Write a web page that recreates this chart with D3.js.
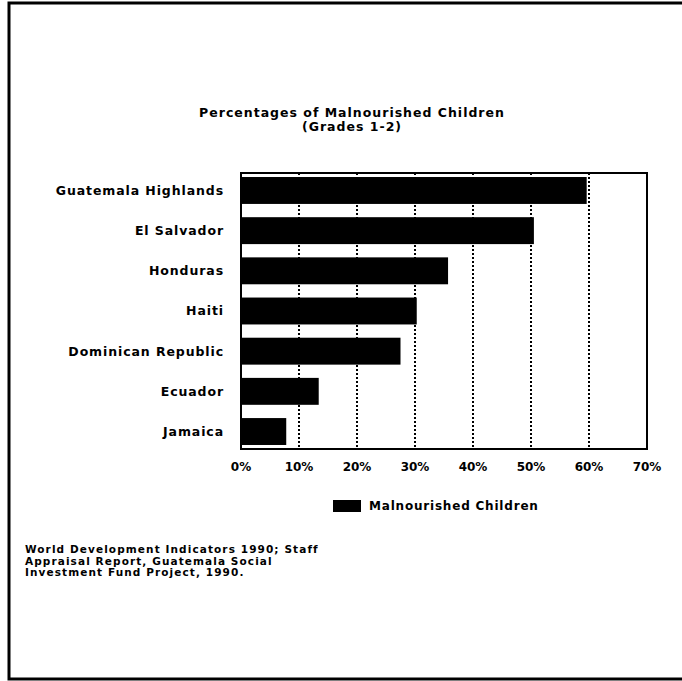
<html lang="en">
<head>
  <meta charset="UTF-8">
  <title>Percentages of Malnourished Children</title>
  <script src="https://d3js.org/d3.v7.min.js"></script>
  <style>
    body { margin: 0; background: white; }
    text { font-family: "DejaVu Sans", sans-serif; font-weight: bold; fill: black; }
  </style>
</head>
<body>
  <svg id="chart" width="682" height="681"></svg>
  <script>
    // data
    const countries = ["Guatemala Highlands", "El Salvador", "Honduras", "Haiti",
      "Dominican Republic", "Ecuador", "Jamaica"];
    const malnourished = [59.6, 50.5, 35.7, 30.3, 27.5, 13.4, 7.8];
    const xTicks = [0, 10, 20, 30, 40, 50, 60, 70];
    const titleLines = ["Percentages of Malnourished Children", "(Grades 1-2)"];
    const legendLabel = "Malnourished Children";
    const sourceLines = ["World Development Indicators 1990; Staff",
      "Appraisal Report, Guatemala Social",
      "Investment Fund Project, 1990."];

    const svg = d3.select("#chart");
    const plot = { left: 241, right: 647, top: 173, bottom: 449 };

    // page frame (scan border)
    svg.append("path")
      .attr("d", "M682,3 L9,3 L9,679 L682,679")
      .attr("fill", "none").attr("stroke", "black").attr("stroke-width", 3);

    const x = d3.scaleLinear().domain([0, 70]).range([plot.left, plot.right]);
    const y = d3.scaleBand().domain(countries).range([plot.top, plot.bottom])
      .paddingInner(0.33).paddingOuter(0.1);

    // title
    svg.selectAll("text.title").data(titleLines)
      .join("text")
      .attr("class", "title")
      .attr("x", 352)
      .attr("y", (d, i) => 117 + i * 14)
      .attr("text-anchor", "middle")
      .style("font-size", "12.5px")
      .style("letter-spacing", "1px")
      .text(d => d);

    // dotted gridlines
    svg.selectAll("line.grid").data(xTicks.filter(d => d > 0 && d < 70))
      .join("line")
      .attr("class", "grid")
      .attr("x1", d => x(d)).attr("x2", d => x(d))
      .attr("y1", plot.top).attr("y2", plot.bottom)
      .attr("stroke", "black").attr("stroke-width", 2)
      .attr("stroke-dasharray", "2,2");

    // bars
    svg.selectAll("rect.bar").data(countries)
      .join("rect")
      .attr("class", "bar")
      .attr("x", plot.left)
      .attr("y", d => y(d))
      .attr("width", (d, i) => x(malnourished[i]) - plot.left)
      .attr("height", y.bandwidth())
      .attr("fill", "black");

    // plot frame
    svg.append("rect")
      .attr("x", plot.left).attr("y", plot.top)
      .attr("width", plot.right - plot.left).attr("height", plot.bottom - plot.top)
      .attr("fill", "none").attr("stroke", "black").attr("stroke-width", 2);

    // category labels
    svg.selectAll("text.cat").data(countries)
      .join("text")
      .attr("class", "cat")
      .attr("x", 224)
      .attr("y", d => y(d) + y.bandwidth() / 2)
      .attr("dy", "0.35em")
      .attr("text-anchor", "end")
      .style("font-size", "12.5px")
      .style("letter-spacing", "0.9px")
      .text(d => d);

    // x tick labels
    svg.selectAll("text.tick").data(xTicks)
      .join("text")
      .attr("class", "tick")
      .attr("x", d => x(d))
      .attr("y", 471)
      .attr("text-anchor", "middle")
      .style("font-size", "12px")
      .text(d => d + "%");

    // legend
    svg.append("rect")
      .attr("x", 333).attr("y", 500).attr("width", 28).attr("height", 12)
      .attr("fill", "black");
    svg.append("text")
      .attr("x", 369).attr("y", 510)
      .style("font-size", "12px")
      .style("letter-spacing", "0.8px")
      .text(legendLabel);

    // source note
    svg.selectAll("text.source").data(sourceLines)
      .join("text")
      .attr("class", "source")
      .attr("x", 25)
      .attr("y", (d, i) => 553 + i * 11.5)
      .style("font-size", "10.5px")
      .style("letter-spacing", "1.1px")
      .text(d => d);
  </script>
</body>
</html>
